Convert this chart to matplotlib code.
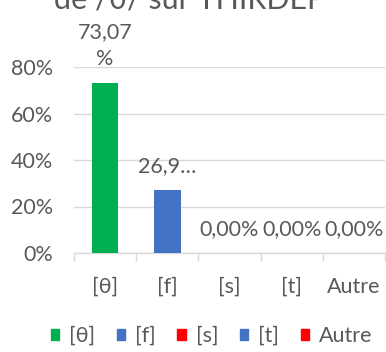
import matplotlib.pyplot as plt
from matplotlib.patches import Patch
import numpy as np

# realisations of /θ/ (share of tokens)
categories = ["[θ]", "[f]", "[s]", "[t]", "Autre"]
shares = [0.7307, 0.2693, 0.0, 0.0, 0.0]
bar_labels = ["73,07\n%", "26,9…", "0,00%", "0,00%", "0,00%"]
colors = ["#00B050", "#4472C4", "#FF0000", "#4472C4", "#FF0000"]
yticks = [0, 0.2, 0.4, 0.6, 0.8]

plt.rcParams['font.family'] = ['Lato', 'DejaVu Sans']
txt = "#595959"
grid = "#D9D9D9"
fs = 15.5

fig = plt.figure(figsize=(3.86, 3.52), dpi=100)
ax = fig.add_axes([74 / 386, 99 / 352, 311 / 386, 186 / 352])

x = np.arange(len(categories))
ax.bar(x, shares, width=0.43, color=colors, zorder=3)

for xi, v, lab in zip(x, shares, bar_labels):
    ax.annotate(lab, (xi, v), xytext=(0, 10), textcoords="offset points",
                ha="center", va="bottom", fontsize=fs, color=txt,
                linespacing=1.45, annotation_clip=False)

ax.set_xlim(-0.5, len(categories) - 0.5)
ax.set_ylim(0, 0.8)
ax.set_yticks(yticks)
ax.set_yticklabels([f"{int(t * 100)}%" for t in yticks])
ax.set_xticks(x)
ax.set_xticklabels(categories)
ax.set_xticks(np.arange(-0.5, len(categories)), minor=True)
ax.tick_params(axis="x", which="major", length=0, pad=17, labelsize=fs, labelcolor=txt)
ax.tick_params(axis="x", which="minor", length=6, width=1, color=grid)
ax.tick_params(axis="y", length=0, pad=15, labelsize=fs, labelcolor=txt)

ax.grid(axis="y", color=grid, linewidth=1, zorder=0)
for side in ["top", "right", "left"]:
    ax.spines[side].set_visible(False)
ax.spines["bottom"].set_color(grid)
ax.spines["bottom"].set_linewidth(1)

# chart title (its first line sits above the top edge)
fig.text(0.49, 1 - 8 / 352, "de /θ/ sur THIRDEP", ha="center", va="baseline",
         fontsize=22, color=txt)

handles = [Patch(color=c, label=l) for c, l in zip(colors, categories)]
fig.legend(handles=handles, loc="center", bbox_to_anchor=(0.548, 1 - 336 / 352),
           ncol=5, frameon=False, fontsize=fs, labelcolor=txt,
           handlelength=0.4, handleheight=0.4, handletextpad=0.45, columnspacing=1.0,
           borderpad=0, borderaxespad=0)

fig.savefig("out.png", dpi=100)
